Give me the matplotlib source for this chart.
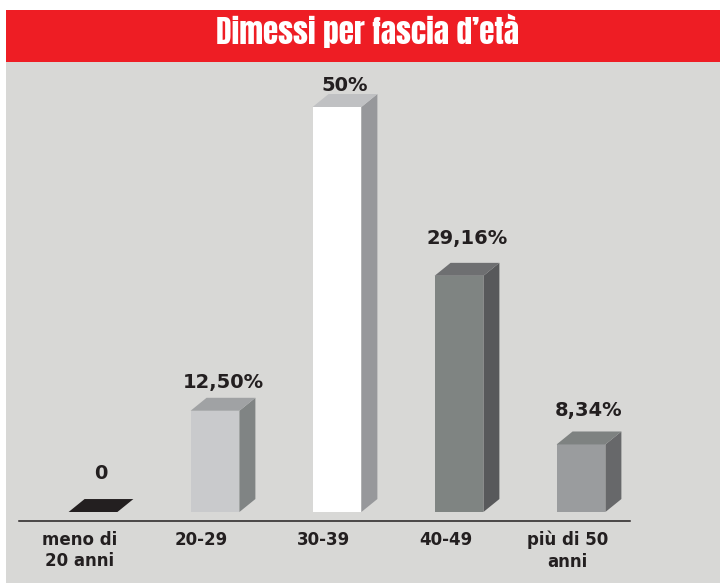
import matplotlib
matplotlib.use("Agg")
import matplotlib.pyplot as plt
from matplotlib.patches import Rectangle, Polygon

# --- Data ---
categories = ["meno di\n20 anni", "20-29", "30-39", "40-49", "più di 50\nanni"]
values = [0, 12.50, 50, 29.16, 8.34]
value_labels = ["0", "12,50%", "50%", "29,16%", "8,34%"]
title = "Dimessi per fascia d\u2019età"

# --- Style ---
BG = "#d8d8d6"
RED = "#ee1d24"
DARK = "#231f20"
front_colors = ["#231f20", "#c9cacc", "#ffffff", "#7f8482", "#9a9c9e"]
side_colors = ["#231f20", "#808484", "#97989b", "#58595b", "#67686a"]
top_colors = ["#231f20", "#a0a2a4", "#c0c1c3", "#6e6f71", "#7e8281"]
label_offsets = [4.75, 3.45, 2.7, 4.6, 4.25]   # per-bar gap above top (percent units)

W = 0.40      # bar width in category units
DX = 0.131    # 3D depth x
DY = 1.6      # 3D depth y (percent units)

fig = plt.figure(figsize=(7.2, 5.83), dpi=100)
fig.patch.set_facecolor("white")

# background panels
fig.add_artist(Rectangle((6 / 720, 0), 1, (583 - 62) / 583, transform=fig.transFigure,
                         facecolor=BG, edgecolor="none", zorder=0))
fig.add_artist(Rectangle((6 / 720, (583 - 62) / 583), 1, 52 / 583, transform=fig.transFigure,
                         facecolor=RED, edgecolor="none", zorder=0))
fig.text(0.51, (583 - 44) / 583, title, ha="center", va="baseline", color="white",
         fontsize=22.5, family=["Anton", "DejaVu Sans"])

ax = fig.add_axes([32 / 720, (583 - 512) / 583, 610 / 720, 405 / 583])
ax.set_xlim(-0.5, 4.5)
ax.set_ylim(0, 50)
ax.axis("off")

for i, v in enumerate(values):
    x0, x1 = i - W / 2, i + W / 2
    top = [(x0, v), (x0 + DX, v + DY), (x1 + DX, v + DY), (x1, v)]
    if v > 0:
        ax.add_patch(Rectangle((x0, 0), W, v, facecolor=front_colors[i], edgecolor="none", clip_on=False))
        side = [(x1, 0), (x1 + DX, DY), (x1 + DX, v + DY), (x1, v)]
        ax.add_patch(Polygon(side, closed=True, facecolor=side_colors[i], edgecolor="none", clip_on=False))
    ax.add_patch(Polygon(top, closed=True, facecolor=top_colors[i], edgecolor="none", clip_on=False))
    ax.text(i + DX / 2, v + label_offsets[i], value_labels[i], ha="center", va="center",
            fontsize=14, fontweight="bold", color=DARK, clip_on=False)
    ax.text(i - 0.11, -2.3, categories[i], ha="center", va="top", fontsize=12,
            fontweight="bold", color=DARK, linespacing=1.25, clip_on=False)

# baseline rule
ax.plot([-0.607, 4.40], [-1.11, -1.11], color=DARK, lw=1.1, clip_on=False)

fig.savefig("out.png", dpi=100)
